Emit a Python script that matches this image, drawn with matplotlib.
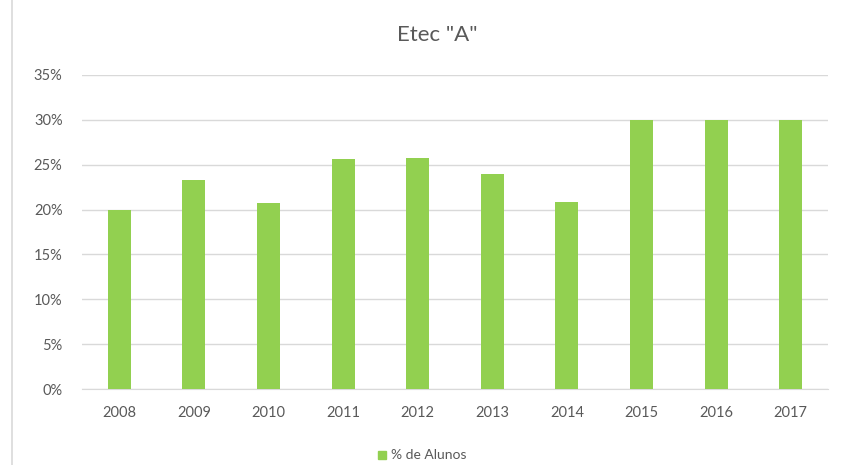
import matplotlib.pyplot as plt
from matplotlib.lines import Line2D
from matplotlib.patches import Rectangle

# Share of students per year
years = ["2008", "2009", "2010", "2011", "2012", "2013", "2014", "2015", "2016", "2017"]
pct_alunos = [0.200, 0.233, 0.207, 0.256, 0.257, 0.240, 0.208, 0.300, 0.300, 0.300]
yticks = [0, 0.05, 0.10, 0.15, 0.20, 0.25, 0.30, 0.35]

plt.rcParams["font.family"] = ["Lato", "DejaVu Sans"]

W, H = 849, 465
fig = plt.figure(figsize=(W / 100, H / 100), dpi=100)
ax = fig.add_axes([82 / W, 1 - 389 / H, (828 - 82) / W, (389 - 75) / H])

x = range(len(years))
ax.bar(x, pct_alunos, width=0.31, color="#92D050", zorder=3)

ax.set_xlim(-0.5, len(years) - 0.5)
ax.set_ylim(0, 0.35)
ax.set_yticks(yticks)
ax.set_yticklabels([f"{int(round(v * 100))}%" for v in yticks])
ax.set_xticks(list(x))
ax.set_xticklabels(years)

ax.grid(axis="y", color="#D9D9D9", linewidth=1.0, zorder=0)
for side in ("top", "right", "left"):
    ax.spines[side].set_visible(False)
ax.spines["bottom"].set_color("#D9D9D9")
ax.tick_params(axis="both", length=0, colors="#595959", labelsize=10.5)
ax.tick_params(axis="x", pad=12)
ax.tick_params(axis="y", pad=14)

fig.text(437 / W, 1 - 35 / H, 'Etec "A"', ha="center", va="center",
         fontsize=16, color="#595959")

# legend entry at the bottom
fig.patches.append(Rectangle((378 / W, 1 - 459 / H), 8 / W, 8 / H,
                             transform=fig.transFigure, color="#92D050"))
fig.text(391 / W, 1 - 455 / H, "% de Alunos", ha="left", va="center",
         fontsize=10, color="#595959")

# chart frame edge on the left
fig.lines.append(Line2D([12 / W, 12 / W], [0, 1], transform=fig.transFigure,
                        color="#D9D9D9", linewidth=1.2))

fig.savefig("out.png", dpi=100)
